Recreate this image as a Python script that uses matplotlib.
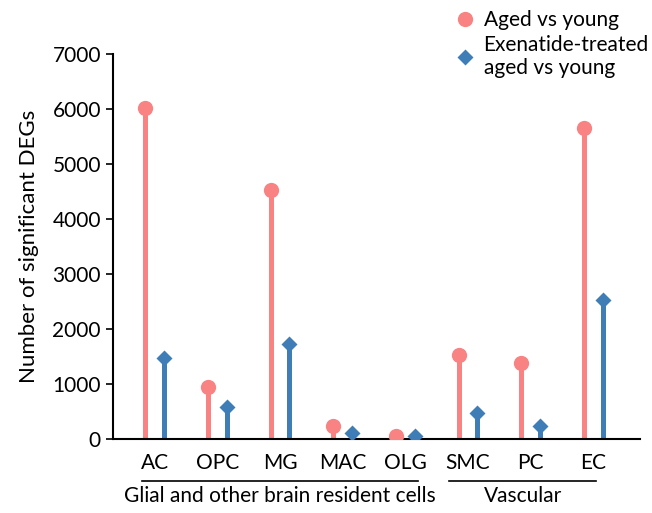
import numpy as np
import matplotlib.pyplot as plt

plt.rcParams['font.family'] = ['Lato', 'DejaVu Sans']

cells = ['AC', 'OPC', 'MG', 'MAC', 'OLG', 'SMC', 'PC', 'EC']
aged = [6020, 950, 4530, 240, 50, 1530, 1390, 5660]
exen = [1480, 580, 1730, 110, 60, 470, 240, 2530]

pink = '#F98283'
blue = '#3F7DB6'

fig = plt.figure(figsize=(6.52, 5.13), dpi=100)
ax = fig.add_axes([0.173, 0.144, 0.809, 0.751])

x = np.arange(len(cells))
off = 0.15
ax.vlines(x - off, 0, aged, color=pink, lw=3.6, zorder=2)
ax.vlines(x + off, 0, exen, color=blue, lw=3.6, zorder=2)
ax.plot(x - off, aged, 'o', color=pink, ms=11, mec='none', zorder=3, label='Aged vs young')
ax.plot(x + off, exen, 'D', color=blue, ms=8.5, mec='none', zorder=3,
        label='Exenatide-treated\naged vs young')

ax.set_xlim(-0.67, 7.75)
ax.set_ylim(0, 7000)
ax.set_yticks(range(0, 7001, 1000))
ax.set_xticks(x)
ax.set_xticklabels(cells)
ax.tick_params(labelsize=15, length=5, width=1.2)
ax.tick_params(axis='x', length=0, pad=10)
ax.spines[['top', 'right']].set_visible(False)
ax.spines[['left', 'bottom']].set_linewidth(1.5)
ax.set_ylabel('Number of significant DEGs', fontsize=16, labelpad=10)

# group brackets under the axis
trans = ax.get_xaxis_transform()
for x0, x1, name in [(-0.2, 4.2, 'Glial and other brain resident cells'),
                     (4.7, 7.05, 'Vascular')]:
    ax.plot([x0, x1], [-0.109, -0.109], color='black', lw=1.2, transform=trans, clip_on=False)
    ax.text((x0 + x1) / 2, -0.122, name, transform=trans, ha='center', va='top', fontsize=15)

fig.legend(loc='upper left', bbox_to_anchor=(0.681, 0.997), frameon=False, fontsize=15,
           handletextpad=0.3, labelspacing=0.25, handlelength=1.2, borderaxespad=0)

fig.savefig('out.png', dpi=100)
